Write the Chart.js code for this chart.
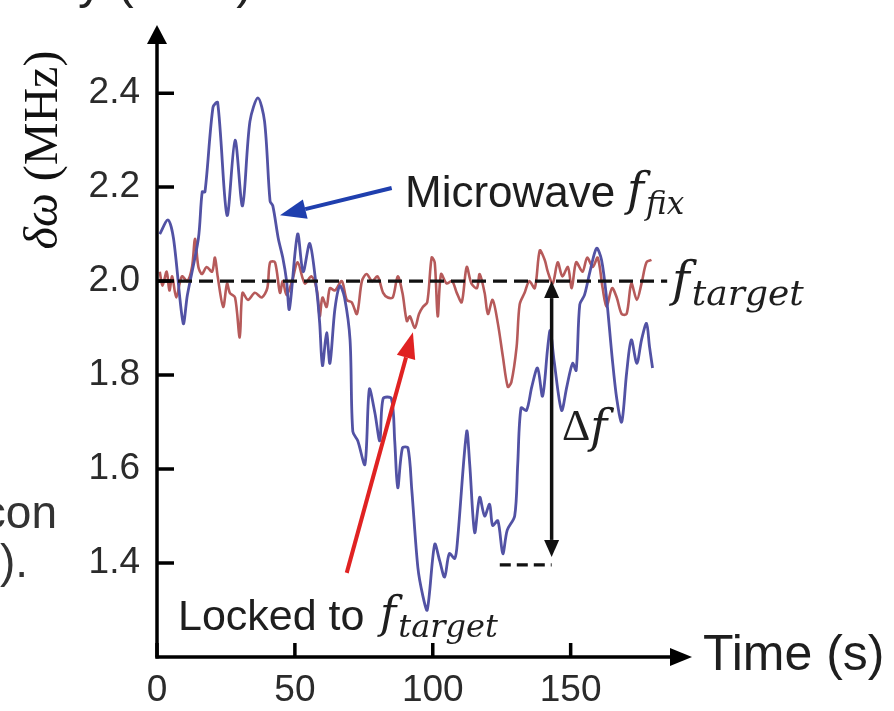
<!DOCTYPE html>
<html>
<head>
<meta charset="utf-8">
<script src="https://cdn.jsdelivr.net/npm/chart.js@4.4.1/dist/chart.umd.min.js"></script>
<style>
  html, body { margin: 0; padding: 0; background: #fff; }
  #wrap { width: 894px; height: 711px; position: relative; }
</style>
</head>
<body>
<div id="wrap"><canvas id="grafico"></canvas></div>
<script>
// datos (tiempo en s, frecuencia en MHz)
const blueTime = [1, 4, 6, 9.5, 11, 15, 16.4, 17.4, 20.3, 22, 25.4, 28.3, 31, 33.7, 36.6, 39, 41, 42, 44, 45.6,
  47, 48, 51, 53, 55.4, 58, 59, 60, 61.5, 62.7, 64.5, 66.3, 68, 70, 71, 72.8, 75.4, 77, 79, 80.8,
  82, 85, 86.2, 87.3, 89, 91, 92.4, 94.6, 96.4, 98, 100.7, 102.5, 104.3, 106, 108, 109, 112.3, 113.4, 115.2, 117,
  118.8, 120.6, 121.7, 123.6, 125.4, 127, 129.7, 130.8, 132, 134, 135.9, 138, 139.8, 141.7, 142.6, 144, 146.7, 148.6, 150.7, 152,
  153.3, 155, 157, 159.4, 161.2, 163, 165, 166.7, 168.5, 170.3, 172, 174, 175.7, 177.5, 178.6, 179.7];
const blueValues = [2.10, 2.13, 2.09, 1.91, 1.97, 2.09, 2.19, 2.19, 2.37, 2.38, 2.14, 2.30, 2.16, 2.34, 2.39, 2.34, 2.17, 2.16, 2.09, 2.05,
  2.00, 1.94, 2.10, 2.02, 2.08, 1.975, 1.91, 1.82, 1.89, 1.825, 1.94, 1.99, 1.965, 1.875, 1.68, 1.66, 1.61, 1.77, 1.72, 1.66,
  1.75, 1.75, 1.66, 1.56, 1.645, 1.645, 1.555, 1.39, 1.33, 1.30, 1.44, 1.405, 1.37, 1.42, 1.41, 1.45, 1.68, 1.61, 1.465, 1.54,
  1.50, 1.525, 1.48, 1.49, 1.42, 1.47, 1.50, 1.61, 1.73, 1.725, 1.775, 1.815, 1.755, 1.86, 1.895, 1.83, 1.725, 1.775, 1.825, 1.81,
  1.95, 1.97, 2.02, 2.07, 2.045, 1.965, 1.84, 1.75, 1.70, 1.805, 1.875, 1.825, 1.875, 1.91, 1.86, 1.815];

const redTime = [1, 2, 3.5, 4.5, 5.5, 7, 9, 11, 12.7, 13.8, 15, 16.3, 18, 20, 21, 22, 24, 25.4, 26.4, 28.3,
  30, 31, 33, 35.5, 38, 40, 41, 42.8, 44.6, 45.6, 47, 49, 51, 53.6, 56, 58, 59, 60, 61.5, 62.7,
  64.5, 67, 68.8, 70.6, 72.5, 74.3, 76, 78, 80, 82, 83.7, 85.5, 87.3, 89, 90.6, 91.7, 93.5, 95, 96.4, 98,
  99.6, 100.7, 101.8, 103, 105, 107, 108.7, 110.5, 112.3, 114, 116, 117, 118.8, 120, 121.7, 123.6, 125.4, 127.2, 128.5, 130.4,
  131.5, 133.3, 135, 137, 138.8, 140.6, 141.7, 143.5, 145.3, 147, 149, 150.4, 152, 154.3, 156, 158, 159.8, 161.6, 163, 165,
  166.7, 168.5, 170.3, 172, 174, 175.7, 177.5, 179.3];
const redValues = [2.02, 1.99, 2.02, 1.98, 2.01, 1.965, 2.01, 2.00, 2.03, 2.09, 2.03, 2.015, 2.03, 2.02, 2.05, 2.01, 1.945, 1.995, 1.975, 1.965,
  1.88, 1.975, 1.96, 1.975, 1.965, 1.985, 2.04, 2.04, 1.975, 2.00, 1.97, 2.00, 2.04, 1.995, 2.01, 1.98, 1.925, 1.965, 1.945, 1.985,
  1.98, 2.00, 1.96, 1.955, 1.93, 2.00, 2.015, 2.00, 2.01, 1.975, 1.965, 1.965, 2.01, 1.975, 1.915, 1.925, 1.90, 1.93, 1.945, 1.955,
  2.05, 2.04, 1.925, 2.015, 1.995, 2.00, 1.975, 1.955, 2.03, 1.995, 1.985, 2.015, 1.975, 1.93, 1.96, 1.91, 1.84, 1.775, 1.785, 1.86,
  1.95, 1.975, 2.00, 1.985, 2.065, 2.045, 2.02, 1.995, 2.04, 2.01, 2.03, 1.985, 2.04, 2.02, 2.05, 2.03, 2.05, 1.985, 1.945, 1.985,
  1.965, 1.93, 1.93, 1.995, 1.96, 1.995, 2.04, 2.045];

const xTicks = [0, 50, 100, 150];
const yTicks = [1.4, 1.6, 1.8, 2.0, 2.2, 2.4];
const fTarget = 2.0;

const ctx = document.getElementById('grafico').getContext('2d');

function flecha(c, x1, y1, x2, y2, color, ancho, largo, anchoPunta) {
    const ang = Math.atan2(y2 - y1, x2 - x1);
    const bx = x2 - largo * Math.cos(ang), by = y2 - largo * Math.sin(ang);
    c.save();
    c.strokeStyle = color;
    c.fillStyle = color;
    c.lineWidth = ancho;
    c.setLineDash([]);
    c.beginPath();
    c.moveTo(x1, y1);
    c.lineTo(bx, by);
    c.stroke();
    c.beginPath();
    c.moveTo(x2, y2);
    c.lineTo(bx + anchoPunta / 2 * Math.sin(ang), by - anchoPunta / 2 * Math.cos(ang));
    c.lineTo(bx - anchoPunta / 2 * Math.sin(ang), by + anchoPunta / 2 * Math.cos(ang));
    c.closePath();
    c.fill();
    c.restore();
}

// subindice estilo matematico: f grande + texto pequeño
function fSub(c, x, y, sub, tam, tamSub) {
    c.font = 'italic ' + tam + 'px "DejaVu Serif"';
    c.fillText('f', x, y);
    const w = c.measureText('f').width;
    c.font = 'italic ' + tamSub + 'px "DejaVu Serif"';
    c.fillText(sub, x + w + 2, y + 9);
}

const anotaciones = {
    id: 'anotaciones',
    afterDatasetsDraw(chart) {
        const c = chart.ctx;
        const sx = chart.scales.x, sy = chart.scales.y;
        const area = chart.chartArea;
        const X = v => sx.getPixelForValue(v);
        const Y = v => sy.getPixelForValue(v);

        // linea objetivo discontinua
        c.save();
        c.strokeStyle = '#111';
        c.lineWidth = 3.2;
        c.setLineDash([14, 7]);
        c.beginPath();
        c.moveTo(X(0), Y(fTarget));
        c.lineTo(X(185), Y(fTarget));
        c.stroke();
        // linea corta abajo de delta f
        c.setLineDash([11, 6]);
        c.beginPath();
        c.moveTo(X(124.3), Y(1.396));
        c.lineTo(X(143.1), Y(1.396));
        c.stroke();
        c.restore();

        // doble flecha delta f
        const xm = X(143.1), ym = (Y(2.0) + Y(1.413)) / 2;
        flecha(c, xm, ym, xm, Y(2.0), '#111', 3.5, 17, 15);
        flecha(c, xm, ym, xm, Y(1.413), '#111', 3.5, 17, 15);

        // flechas de colores
        flecha(c, X(85.1), Y(2.198), X(44.6), Y(2.140), '#1f3fae', 4, 26, 20);
        flecha(c, X(68.8), Y(1.379), X(92.8), Y(1.891), '#e02222', 4, 26, 19);

        // ejes con flechas
        c.save();
        c.strokeStyle = '#000';
        c.lineWidth = 3.5;
        c.beginPath();
        yTicks.forEach(v => { c.moveTo(area.left, Y(v)); c.lineTo(area.left + 17, Y(v)); });
        xTicks.forEach(v => { c.moveTo(X(v), area.bottom); c.lineTo(X(v), area.bottom - 14); });
        c.stroke();
        c.restore();
        flecha(c, area.left, area.bottom + 1.5, area.left, area.top, '#000', 3.5, 19, 20);
        flecha(c, area.left - 1.5, area.bottom, area.right, area.bottom, '#000', 3.5, 22, 18);

        // textos
        c.save();
        c.fillStyle = '#1e1e1e';
        c.textBaseline = 'alphabetic';
        c.textAlign = 'left';
        c.font = '44px "Liberation Sans", Arial';
        c.fillText('Microwave', 405, 207);
        fSub(c, 627, 205, 'fix', 46, 31);

        fSub(c, 672, 296, 'target', 48, 36);

        c.font = '43px "Liberation Sans", Arial';
        c.fillText('Locked to', 178, 630);
        fSub(c, 380, 628, 'target', 44, 32);

        c.font = '44px "Liberation Serif"';
        c.fillText('\u0394', 562, 440);
        const wd = c.measureText('\u0394').width;
        c.font = 'italic 46px "DejaVu Serif"';
        c.fillText('f', 562 + wd, 442);

        c.font = '50px "Liberation Sans", Arial';
        c.fillText('Time (s)', 703, 670);

        // restos de texto recortado del documento
        c.fillStyle = '#333';
        c.font = '46px "Liberation Sans", Arial';
        c.textAlign = 'right';
        c.fillText('con', 57, 528);
        c.fillText(').', 28, 577);
        c.textAlign = 'left';
        c.fillStyle = '#222';
        c.font = '50px "Liberation Sans", Arial';
        c.fillText('y (MHz)', 78, -2);

        // titulo eje y
        c.fillStyle = '#111';
        c.translate(57, 150);
        c.rotate(-Math.PI / 2);
        c.font = 'italic 48px "Liberation Serif"';
        const t1 = '\u03b4\u03c9';
        const w1 = c.measureText(t1).width;
        c.font = '48px "Liberation Serif"';
        const t2 = ' (MHz)';
        const w2 = c.measureText(t2).width;
        let x0 = -(w1 + w2) / 2;
        c.font = 'italic 48px "Liberation Serif"';
        c.fillText(t1, x0, 0);
        c.font = '48px "Liberation Serif"';
        c.fillText(t2, x0 + w1, 0);
        c.restore();
    }
};

const grafico = new Chart(ctx, {
    type: 'line',
    data: {
        datasets: [{
            label: 'Microwave f_fix',
            data: blueTime.map((t, i) => ({ x: t, y: blueValues[i] })),
            borderColor: '#5252a4',
            borderWidth: 2.8,
            pointRadius: 0,
            tension: 0.3,
            fill: false
        }, {
            label: 'Locked to f_target',
            data: redTime.map((t, i) => ({ x: t, y: redValues[i] })),
            borderColor: '#b65a5a',
            borderWidth: 2.6,
            pointRadius: 0,
            tension: 0.3,
            fill: false
        }]
    },
    options: {
        responsive: true,
        maintainAspectRatio: false,
        animation: false,
        layout: { padding: { left: 0, right: 202, top: 25, bottom: 0 } },
        plugins: { legend: { display: false }, tooltip: { enabled: false } },
        scales: {
            x: {
                type: 'linear',
                min: 0,
                max: 194,
                afterFit: s => { s.height = 54; s.paddingLeft = 0; s.paddingRight = 0; },
                afterBuildTicks: s => { s.ticks = xTicks.map(v => ({ value: v })); },
                grid: { display: false, drawTicks: false },
                border: { display: false },
                ticks: {
                    padding: 12,
                    color: '#2b2b2b',
                    font: { family: '"Liberation Sans", Arial', size: 37 }
                }
            },
            y: {
                min: 1.2,
                max: 2.545,
                afterFit: s => { s.width = 157; s.paddingTop = 0; s.paddingBottom = 0; },
                afterBuildTicks: s => { s.ticks = yTicks.map(v => ({ value: v })); },
                grid: { display: false, drawTicks: false },
                border: { display: false },
                ticks: {
                    padding: 17,
                    color: '#2b2b2b',
                    font: { family: '"Liberation Sans", Arial', size: 37 },
                    callback: v => v.toFixed(1)
                }
            }
        }
    },
    plugins: [anotaciones]
});
</script>
</body>
</html>
